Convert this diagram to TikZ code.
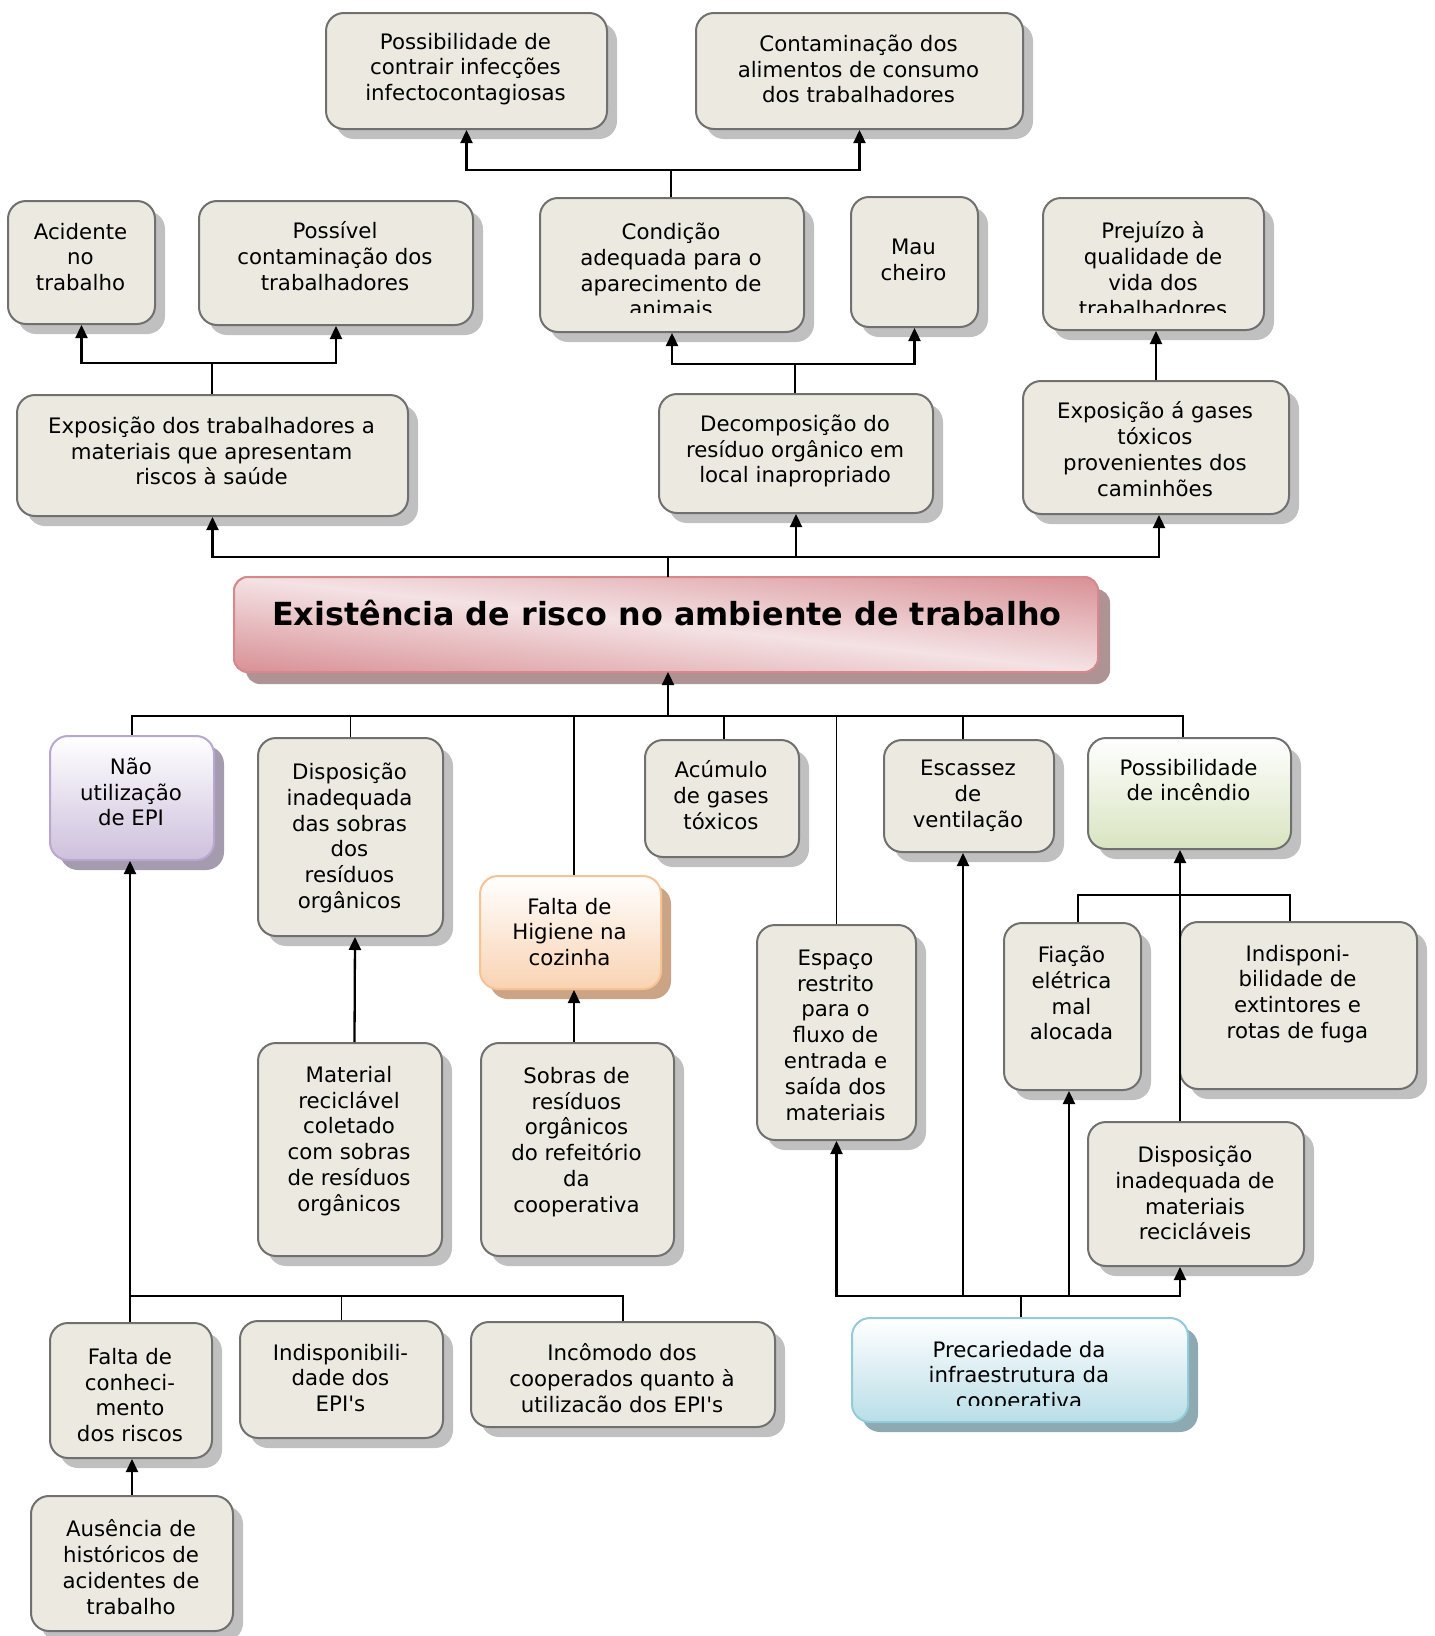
\documentclass[tikz,border=0pt]{standalone}
\usepackage{fontspec}
\setmainfont{DejaVu Sans}
\usetikzlibrary{arrows.meta,shadows}
\definecolor{boxfill}{RGB}{236,234,224}
\definecolor{boxdraw}{RGB}{112,112,112}
\definecolor{shgray}{RGB}{192,192,192}
\definecolor{redA}{RGB}{216,144,149}
\definecolor{redB}{RGB}{244,226,228}
\definecolor{redD}{RGB}{214,136,141}
\definecolor{redS}{RGB}{175,146,148}
\definecolor{purB}{RGB}{205,192,220}
\definecolor{purD}{RGB}{185,166,209}
\definecolor{purS}{RGB}{164,155,175}
\definecolor{orB}{RGB}{249,211,178}
\definecolor{orD}{RGB}{247,194,148}
\definecolor{orS}{RGB}{203,164,134}
\definecolor{grB}{RGB}{216,228,192}
\definecolor{blB}{RGB}{185,222,231}
\definecolor{blD}{RGB}{146,204,218}
\definecolor{blS}{RGB}{141,169,177}
\tikzset{
  shd/.style={drop shadow={shadow xshift=10pt,shadow yshift=-10pt,fill=#1,opacity=1}},
  base/.style={rounded corners=18pt, line width=2pt, inner sep=0pt, anchor=north west},
  plain/.style={fill=boxfill, draw=boxdraw, shd=shgray},
  stmain/.style={draw=redD, fill=redA, outer sep=0pt, rounded corners=14pt,
     drop shadow={shadow xshift=12pt,shadow yshift=-12pt,fill=redS,opacity=1}},
  stpur/.style={draw=purD, top color=white, bottom color=purB, shd=purS},
  stor/.style={draw=orD, top color=white, bottom color=orB, shd=orS},
  stgr/.style={draw=boxdraw, top color=white, bottom color=grB, shd=shgray},
  stbl/.style={draw=blD, top color=white, bottom color=blB, shd=blS},
  txt/.style={align=center, inner sep=0pt, font=\fontsize{21.3}{25.8}\selectfont, text=black},
  tree/.style={draw=black, line width=1.6pt},
  arr/.style={draw=black, line width=2.3pt, -{Triangle[width=12pt,length=13pt]}},
}
\newcommand{\bx}[6][plain]{\node[base,#1,minimum width={(#5-#3)*1pt},minimum height={(#6-#4)*1pt}] (#2) at (#3,#4) {};}
\newcommand{\cbox}[8][plain]{\bx[#1]{#2}{#3}{#4}{#5}{#6}\node[txt] (#2-t) at ({(#3+#5)/2},#7) {#8};}
\begin{document}
\begin{tikzpicture}[x=1pt,y=-1pt]
\fill[white] (0,0) rectangle (1435,1636);
\useasboundingbox (0,0) rectangle (1435,1636);
% ---- top rows
\cbox{pinf}{325}{12}{606}{128}{69}{Possibilidade de\\contrair infecções\\infectocontagiosas}
\cbox{cont}{695}{12}{1022}{128}{69}{Contaminação dos\\alimentos de consumo\\dos trabalhadores}
\cbox{acid}{7}{200}{154}{323}{257}{Acidente\\no\\trabalho}
\cbox{poss}{198}{200}{472}{324}{256}{Possível\\contaminação dos\\trabalhadores}
\bx{cond}{539}{197}{803}{331}
\begin{scope}
\clip (539,197) rectangle (803,312);
\node[txt] (cond-t) at (671,270) {Condição\\adequada para o\\aparecimento de\\animais};
\end{scope}
\cbox{mau}{850}{196}{977}{326}{260}{Mau\\cheiro}
\bx{prej}{1042}{197}{1263}{329}
\begin{scope}
\clip (1042,197) rectangle (1263,312);
\node[txt] (prej-t) at (1153,269) {Prejuízo à\\qualidade de\\vida dos\\trabalhadores};
\end{scope}
\cbox{expt}{16}{394}{407}{515}{451}{Exposição dos trabalhadores a\\materiais que apresentam\\riscos à saúde}
\cbox{deco}{658}{393}{932}{512}{451}{Decomposição do\\resíduo orgânico em\\local inapropriado}
\cbox{expg}{1022}{380}{1288}{513}{449}{Exposição á gases\\tóxicos\\provenientes dos\\caminhões}
% ---- central
\bx[stmain]{main}{234}{577}{1098}{672}
\begin{scope}
\clip[rounded corners=14pt] (main.north west) rectangle (main.south east);
\begin{scope}[transform canvas={yslant=-0.11}]
\shade[top color=redA, bottom color=redA, middle color=redB] (234,456) rectangle (1098,646);
\end{scope}
\end{scope}
\draw[redD, line width=2pt, rounded corners=14pt] (main.north west) rectangle (main.south east);
\node[anchor=base, inner sep=0pt, font=\fontsize{31.8}{36}\selectfont\bfseries] (main-t) at (667,625) {Existência de risco no ambiente de trabalho};
% ---- middle
\cbox[stpur]{nao}{49}{735}{213}{859}{792}{Não\\utilização\\de EPI}
\cbox{dsob}{257}{737}{442}{935}{838}{Disposição\\inadequada\\das sobras\\dos\\resíduos\\orgânicos}
\cbox[stor]{hig}{479}{875}{660}{988}{932}{Falta de\\Higiene na\\cozinha}
\cbox{acum}{644}{739}{798}{856}{795}{Acúmulo\\de gases\\tóxicos}
\cbox{esc}{883}{739}{1053}{851}{796}{Escassez\\de\\ventilação}
\cbox[stgr]{inc}{1087}{737}{1290}{848}{780}{Possibilidade\\de incêndio}
\cbox{esp}{756}{924}{915}{1139}{1035}{Espaço\\restrito\\para o\\fluxo de\\entrada e\\saída dos\\materiais}
\cbox{fia}{1003}{922}{1140}{1089}{993}{Fiação\\elétrica\\mal\\alocada}
\cbox{indf}{1179}{921}{1416}{1088}{994}{Indisponi-\\bilidade de\\extintores e\\rotas de fuga}
\cbox{mat}{257}{1042}{441}{1255}{1141}{Material\\reciclável\\coletado\\com sobras\\de resíduos\\orgânicos}
\cbox{sob}{480}{1042}{673}{1255}{1142}{Sobras de\\resíduos\\orgânicos\\do refeitório\\da\\cooperativa}
\cbox{dmat}{1087}{1121}{1303}{1265}{1193}{Disposição\\inadequada de\\materiais\\recicláveis}
\bx[stbl]{prec}{851}{1317}{1187}{1421}
\begin{scope}
\clip (851,1317) rectangle (1187,1405);
\node[txt] (prec-t) at (1019,1377) {Precariedade da\\infraestrutura da\\cooperativa};
\end{scope}
% ---- bottom left
\cbox{fcon}{49}{1322}{211}{1457}{1395}{Falta de\\conheci-\\mento\\dos riscos}
\cbox{iepi}{239}{1320}{442}{1437}{1378}{Indisponibili-\\dade dos\\EPI\textquotesingle s}
\cbox{inco}{470}{1321}{774}{1426}{1378}{Incômodo dos\\cooperados quanto à\\utilizacão dos EPI\textquotesingle s}
\cbox{aus}{30}{1495}{232}{1630}{1567}{Ausência de\\históricos de\\acidentes de\\trabalho}
% ---- junctions
\coordinate (jA) at (671,170);
\coordinate (jB) at (212,363);
\coordinate (jC) at (795,364);
\coordinate (jT) at (668,557);
\coordinate (jM) at (668,716);
\coordinate (jL) at (130,1296);
\coordinate (jP) at (1021,1296);
\coordinate (jI) at (1180,895);
% ---- connectors top
\draw[tree] (jA |- cond.north) -- (jA);
\draw[arr] (jA) -| (pinf.south);
\draw[arr] (jA) -| (cont.south);
\draw[tree] (jB |- expt.north) -- (jB);
\draw[arr] (jB) -| (acid.south);
\draw[arr] (jB) -| (poss.south);
\draw[tree] (jC |- deco.north) -- (jC);
\draw[arr] (jC) -| (cond.south);
\draw[arr] (jC) -| (mau.south);
\draw[arr] (expg.north) -- (expg.north |- prej.south);
\draw[tree] (jT |- main.north) -- (jT);
\draw[arr] (jT) -| (expt.south);
\draw[arr] (jT) -| (deco.south);
\draw[arr] (jT) -| ([xshift=3pt]expg.south);
% ---- connectors central bottom
\draw[arr] (jM) -- (jM |- main.south);
\draw[tree] (nao.north) |- (jM);
\draw[tree] (dsob.north) |- (jM);
\draw[tree] ([xshift=3.5pt]hig.north) |- (jM);
\draw[tree] ([xshift=2pt]acum.north) |- (jM);
\draw[tree] (esp.north) |- (jM);
\draw[tree] ([xshift=-6pt]esc.north) |- (jM);
\draw[tree] ([xshift=-6.5pt]inc.north) |- (jM);
\draw[arr] ([xshift=4.5pt]mat.north) -- ([xshift=4.5pt]dsob.south);
\draw[arr] ([xshift=-3.5pt]sob.north) -- ([xshift=3.5pt]hig.south);
% ---- bottom left
\draw[tree] (jL |- fcon.north) -- (jL);
\draw[arr] (jL) -- (jL |- nao.south);
\draw[tree] (iepi.north) |- (jL);
\draw[tree] (inco.north) |- (jL);
\draw[arr] (aus.north) -- (aus.north |- fcon.south);
% ---- precariedade
\draw[tree] (jP |- prec.north) -- (jP);
\draw[arr] (jP) -| (esp.south);
\draw[arr] (jP) -| ([xshift=-6pt]esc.south);
\draw[arr] (jP) -| ([xshift=-3.5pt]fia.south);
\draw[arr] (jP) -| ([xshift=-16pt]dmat.south);
% ---- incendio
\draw[tree] (jI |- dmat.north) -- (jI);
\draw[tree] ([xshift=5.5pt]fia.north) |- (jI);
\draw[tree] ([xshift=-8.5pt]indf.north) |- (jI);
\draw[arr] (jI) -- (jI |- inc.south);
\end{tikzpicture}
\end{document}
